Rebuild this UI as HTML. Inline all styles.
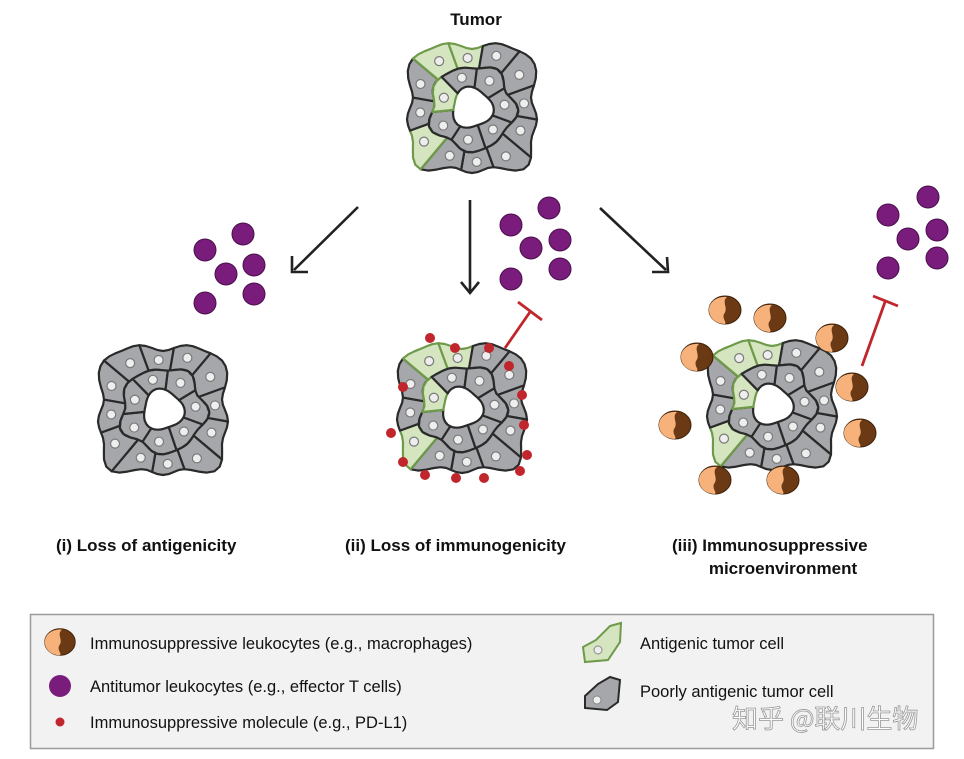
<!DOCTYPE html>
<html><head><meta charset="utf-8"><style>
html,body{margin:0;padding:0;background:#fff;}
body{width:964px;height:759px;overflow:hidden;position:relative;font-family:"Liberation Sans","Noto Sans CJK SC",sans-serif;}
svg{position:absolute;left:0;top:0;}
.lab{font-weight:bold;font-size:17px;fill:#111;}
.leg{font-size:16.5px;fill:#111;font-family:"Liberation Sans Narrow","Liberation Sans",sans-serif;}
</style></head><body>
<svg id="s" width="964" height="759" viewBox="0 0 964 759">
<text x="476" y="25" class="lab" text-anchor="middle">Tumor</text>
<g id="tumors"></g>
<g stroke="#222" stroke-width="2.6" fill="none">
<line x1="358" y1="207" x2="294" y2="270"/><polyline points="292,256 292,272 308,272"/>
<line x1="470" y1="200" x2="470" y2="292"/><polyline points="461,282 470,293 479,282"/>
<line x1="600" y1="208" x2="666" y2="270"/><polyline points="652,272 668,272 667,257"/>
</g>
<g stroke="#c0262b" stroke-width="2.8" fill="none">
<line x1="505" y1="348" x2="530" y2="312"/><line x1="518" y1="302" x2="542" y2="320"/>
<line x1="862" y1="366" x2="885" y2="302"/><line x1="873" y1="296" x2="898" y2="306"/>
</g>
<g id="dots"></g>
<text x="56" y="551" class="lab">(i) Loss of antigenicity</text>
<text x="345" y="551" class="lab">(ii) Loss of immunogenicity</text>
<text x="672" y="551" class="lab">(iii) Immunosuppressive</text>
<text x="783" y="574" class="lab" text-anchor="middle">microenvironment</text>
<rect x="30.5" y="614.5" width="903" height="134" fill="#f2f2f2" stroke="#9a9a9a" stroke-width="1.5"/>
<g id="legend"></g>
<text x="90" y="649" class="leg">Immunosuppressive leukocytes (e.g., macrophages)</text>
<text x="90" y="692" class="leg">Antitumor leukocytes (e.g., effector T cells)</text>
<text x="90" y="728" class="leg">Immunosuppressive molecule (e.g., PD-L1)</text>
<text x="640" y="649" class="leg">Antigenic tumor cell</text>
<text x="640" y="697" class="leg">Poorly antigenic tumor cell</text>
<text x="732" y="728" font-size="26" fill="#fff" stroke="#999" stroke-width="0.8" font-family="'Noto Sans CJK SC',sans-serif">知乎 @联川生物</text>
</svg>
<script>
var NS="http://www.w3.org/2000/svg";
function el(p,t,a){var e=document.createElementNS(NS,t);for(var k in a)e.setAttribute(k,a[k]);p.appendChild(e);return e;}
function rIn(a){return 20+2*Math.sin(3*a+1);}
function rMid(a){return 42+3*Math.sin(5*a+0.7)+2*Math.cos(7*a);}
function rOut(a){var c=Math.abs(Math.cos(a)),s=Math.abs(Math.sin(a));return 62/Math.pow(Math.pow(c,6)+Math.pow(s,6),1/6)+3*Math.sin(9*a);}
function pt(cx,cy,r,a){return (cx+r*Math.cos(a)).toFixed(1)+","+(cy+r*Math.sin(a)).toFixed(1);}
function cell(g,cx,cy,a0,a1,f0,f1,green){
  var pts=[],n=6,i,a;
  for(i=0;i<=n;i++){a=a0+(a1-a0)*i/n;pts.push(pt(cx,cy,f0(a),a));}
  for(i=n;i>=0;i--){a=a0+(a1-a0)*i/n;pts.push(pt(cx,cy,f1(a),a));}
  el(g,"polygon",{points:pts.join(" "),fill:green?"#d4e5bf":"#a5a7aa",stroke:green?"#6e9a4a":"#2a2a2a","stroke-width":2.2,"stroke-linejoin":"round"});
  var am=(a0+a1)/2,rm=(f0(am)+f1(am))/2;
  el(g,"circle",{cx:cx+rm*Math.cos(am),cy:cy+rm*Math.sin(am),r:4.5,fill:"#eeeeee",stroke:"#7a7a7a","stroke-width":1.2});
}
function tumor(cx,cy,withGreen){
  var g=el(document.getElementById("tumors"),"g",{});
  var D=Math.PI/180,i;
  var gi=[3],go=[7,8,4];
  for(i=0;i<12;i++){var a0=(i*30+10)*D,a1=a0+30*D;cell(g,cx,cy,a0,a1,rMid,rOut,withGreen&&go.indexOf(i)>=0);}
  for(i=0;i<7;i++){var b0=(i*360/7+20)*D,b1=b0+360/7*D;cell(g,cx,cy,b0,b1,rIn,rMid,withGreen&&gi.indexOf(i)>=0);}
}
tumor(472,108,true);tumor(163,410,false);tumor(462,408,true);tumor(772,405,true);
var d=document.getElementById("dots");
function purple(x,y){el(d,"circle",{cx:x,cy:y,r:11,fill:"#7a1c7c",stroke:"#4a0f4c","stroke-width":1});}
[[205,250],[243,234],[226,274],[254,265],[205,303],[254,294],[511,225],[549,208],[531,248],[560,240],[511,279],[560,269],[888,215],[928,197],[908,239],[937,230],[888,268],[937,258]].forEach(function(p){purple(p[0],p[1]);});
[[430,338],[455,348],[489,348],[509,366],[522,395],[524,425],[527,455],[520,471],[484,478],[456,478],[425,475],[403,462],[391,433],[403,387]].forEach(function(p){el(d,"circle",{cx:p[0],cy:p[1],r:5,fill:"#c0262b"});});
function mac(p,x,y,s){s=s||1;var g=el(p,"g",{transform:"translate("+x+","+y+") scale("+s+")"});
 el(g,"ellipse",{cx:0,cy:0,rx:16,ry:14,fill:"#6b3a14",stroke:"#3e2008","stroke-width":1});
 el(g,"path",{d:"M2,-13 C-4,-8 4,-2 -1,4 C-3,9 2,12 0,14 C-10,14 -16,7 -16,0 C-16,-8 -8,-14 2,-13Z",fill:"#f6b27a"});}
[[725,310],[770,318],[832,338],[697,357],[852,387],[675,425],[860,433],[715,480],[783,480]].forEach(function(p){mac(d,p[0],p[1]);});
var L=document.getElementById("legend");
mac(L,60,642,0.95);
el(L,"circle",{cx:60,cy:686,r:11,fill:"#7a1c7c"});
el(L,"circle",{cx:60,cy:722,r:4.5,fill:"#c0262b"});
el(L,"polygon",{points:"610,626 621,623 620,642 608,660 585,662 583,647 596,640",fill:"#d4e5bf",stroke:"#6e9a4a","stroke-width":2});
el(L,"circle",{cx:598,cy:650,r:4,fill:"#eee",stroke:"#888"});
el(L,"polygon",{points:"610,677 620,680 618,702 607,710 585,708 585,696 598,684",fill:"#a5a7aa",stroke:"#2a2a2a","stroke-width":2});
el(L,"circle",{cx:597,cy:700,r:4,fill:"#eee",stroke:"#888"});
</script>
</body></html>
